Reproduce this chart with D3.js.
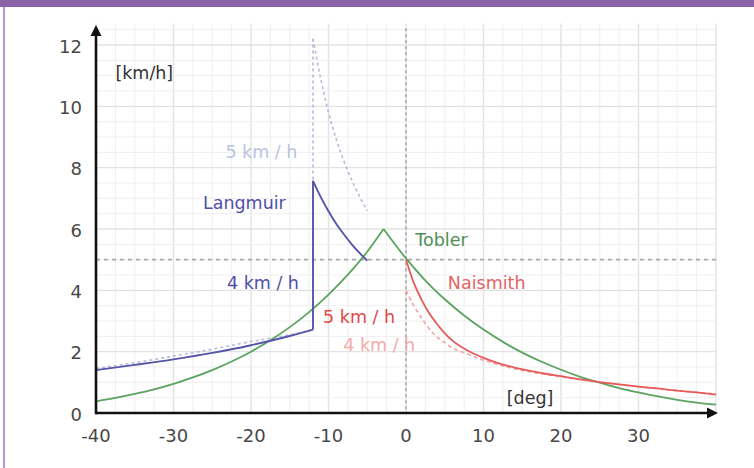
<!DOCTYPE html>
<html>
<head>
<meta charset="utf-8">
<script src="https://cdn.jsdelivr.net/npm/d3@7"></script>
<style>
  html, body { margin: 0; padding: 0; background: #fff; }
  svg { display: block; }
</style>
</head>
<body>
<div id="plot"></div>
<script>
// tick labels
var xTicks = [-40, -30, -20, -10, 0, 10, 20, 30];
var yTicks = [0, 2, 4, 6, 8, 10, 12];

// Tobler hiking function (green)
var toblerDeg = [-40, -37.5, -35, -32.5, -30, -27.5, -25, -22.5, -20, -17.5, -15, -12.5, -10, -7.5, -5, -2.9,
                 0, 2.5, 5, 7.5, 10, 12.5, 15, 17.5, 20, 22.5, 25, 27.5, 30, 32.5, 35, 37.5, 40];
var toblerSpeed = [0.38, 0.49, 0.62, 0.77, 0.95, 1.16, 1.4, 1.68, 2.0, 2.37, 2.8, 3.29, 3.86, 4.51, 5.26, 6.0,
                   5.04, 4.32, 3.71, 3.18, 2.72, 2.32, 1.97, 1.67, 1.41, 1.18, 0.99, 0.81, 0.67, 0.54, 0.43, 0.34, 0.27];

// Langmuir, 4 km/h (solid blue) -- the repeated -12 is the jump
var langmuirDeg = [-40, -35, -30, -25, -20, -15, -12, -12, -11, -10, -9, -8, -7, -6, -5];
var langmuirSpeed = [1.4, 1.57, 1.75, 1.96, 2.21, 2.51, 2.72, 7.57, 7.04, 6.58, 6.17, 5.82, 5.5, 5.22, 4.97];

// Langmuir, 5 km/h (light dotted blue)
var langmuir5Deg = [-40, -35, -30, -25, -20, -15, -12, -12, -11, -10, -9, -8, -7, -6, -5];
var langmuir5Speed = [1.45, 1.64, 1.86, 2.08, 2.33, 2.55, 2.72, 12.2, 10.9, 9.8, 8.93, 8.2, 7.59, 7.06, 6.6];

// Naismith, 5 km/h (solid red)
var naismithDeg = [0, 1, 2, 3, 4, 5, 6, 8, 10, 12, 14, 16, 18, 20, 22.5, 25, 27.5, 30, 32.5, 35, 37.5, 40];
var naismithSpeed = [5.0, 4.25, 3.7, 3.25, 2.9, 2.6, 2.36, 2.03, 1.8, 1.62, 1.48, 1.37, 1.28, 1.2, 1.1, 1.01, 0.93, 0.86, 0.8, 0.73, 0.67, 0.6];

// Naismith, 4 km/h (pink dashed)
var naismith4Deg = [0, 1, 2, 3.5, 5, 6, 8, 10, 12, 14, 16, 18, 20, 25, 30, 35, 40];
var naismith4Speed = [4.0, 3.5, 3.1, 2.6, 2.3, 2.12, 1.92, 1.72, 1.57, 1.44, 1.34, 1.26, 1.18, 1.0, 0.86, 0.73, 0.62];

// reference lines
var refSpeed = 5;
var refDeg = 0;

// annotations: [text, deg, speed, colour]
var labels = [
  ["[km/h]", -37.5, 11.1, "#333"],
  ["5 km / h", -23.3, 8.5, "#b9c3e3"],
  ["Langmuir", -26.2, 6.85, "#4f4fa8"],
  ["4 km / h", -23.1, 4.24, "#4f4fa8"],
  ["Tobler", 1.2, 5.64, "#4f8f55"],
  ["Naismith", 5.4, 4.24, "#e06464"],
  ["5 km / h", -10.7, 3.13, "#e04848"],
  ["4 km / h", -8.1, 2.22, "#f3aaaa"],
  ["[deg]", 13.0, 0.49, "#333"]
];

var W = 754, H = 468;
var svg = d3.select("div#plot")
  .append("svg")
  .attr("width", W)
  .attr("height", H);

svg.append("rect").attr("width", W).attr("height", H).attr("fill", "#fff");

// purple frame
svg.append("rect").attr("x", 0).attr("y", 0).attr("width", W).attr("height", 7).attr("fill", "#8c62a8");
svg.append("rect").attr("x", 3).attr("y", 7).attr("width", 2).attr("height", H - 7).attr("fill", "#b894d0");

var x = d3.scaleLinear().domain([-40, 40]).range([96, 716]);
var y = d3.scaleLinear().domain([0, 12]).range([413, 45]);
var yTop = 12.7;

// grid
var grid = svg.append("g");
d3.range(-40, 40.01, 2.5).forEach(function(d) {
  var major = d % 10 === 0;
  grid.append("line")
    .attr("x1", x(d)).attr("x2", x(d))
    .attr("y1", y(0)).attr("y2", y(yTop))
    .attr("stroke", major ? "#e2e2e2" : "#efefef")
    .attr("stroke-width", major ? 1.4 : 1);
});
d3.range(0.5, 12.51, 0.5).forEach(function(d) {
  var major = d % 2 === 0;
  grid.append("line")
    .attr("x1", x(-40)).attr("x2", x(40))
    .attr("y1", y(d)).attr("y2", y(d))
    .attr("stroke", major ? "#e2e2e2" : "#efefef")
    .attr("stroke-width", major ? 1.4 : 1);
});

// reference dashed lines
svg.append("line")
  .attr("x1", x(-40)).attr("x2", x(40))
  .attr("y1", y(refSpeed)).attr("y2", y(refSpeed))
  .attr("stroke", "#a8a8a8").attr("stroke-width", 1.6)
  .attr("stroke-dasharray", "4,4");
svg.append("line")
  .attr("x1", x(refDeg)).attr("x2", x(refDeg))
  .attr("y1", y(12.55)).attr("y2", y(0))
  .attr("stroke", "#a8a8a8").attr("stroke-width", 1.6)
  .attr("stroke-dasharray", "3,3");

var line = d3.line()
  .x(function(d) { return x(d[0]); })
  .y(function(d) { return y(d[1]); })
  .curve(d3.curveMonotoneX);

// split a series into runs of increasing deg; runs are joined by straight steps
function drawSeries(deg, speed, colour, width, dash, splitAtPeak) {
  var pts = d3.zip(deg, speed);
  var runs = [[pts[0]]];
  var peak = d3.maxIndex(speed);
  for (var i = 1; i < pts.length; i++) {
    if (pts[i][0] === pts[i - 1][0]) {
      runs.push([pts[i]]);
    } else {
      runs[runs.length - 1].push(pts[i]);
      if (splitAtPeak && i === peak) runs.push([pts[i]]);
    }
  }
  var g = svg.append("g")
    .attr("fill", "none")
    .attr("stroke", colour)
    .attr("stroke-width", width)
    .attr("stroke-linejoin", "round")
    .attr("stroke-dasharray", dash);
  runs.forEach(function(r, k) {
    g.append("path").attr("d", line(r));
    if (k > 0) {
      var a = runs[k - 1][runs[k - 1].length - 1];
      if (a[0] === r[0][0]) {
        g.append("path").attr("d", d3.line()([[x(a[0]), y(a[1])], [x(r[0][0]), y(r[0][1])]]));
      }
    }
  });
}

drawSeries(langmuir5Deg, langmuir5Speed, "#b3bbdc", 1.6, "3,3", false);
drawSeries(naismith4Deg, naismith4Speed, "#f2a4a4", 1.6, "4,3", false);
drawSeries(toblerDeg, toblerSpeed, "#5ba35f", 1.8, null, true);
drawSeries(langmuirDeg, langmuirSpeed, "#5656a8", 1.9, null, false);
drawSeries(naismithDeg, naismithSpeed, "#e65a5a", 1.8, null, false);

// axes
svg.append("line")
  .attr("x1", x(-40)).attr("x2", x(40) - 6)
  .attr("y1", y(0)).attr("y2", y(0))
  .attr("stroke", "#111").attr("stroke-width", 2.6);
svg.append("line")
  .attr("x1", x(-40)).attr("x2", x(-40))
  .attr("y1", y(0) + 1.3).attr("y2", 32)
  .attr("stroke", "#111").attr("stroke-width", 2.6);
svg.append("path")
  .attr("d", "M" + (x(40) + 2) + "," + y(0) + "l-11,-5.5l0,11z")
  .attr("fill", "#111");
svg.append("path")
  .attr("d", "M" + x(-40) + ",25l-5.5,11l11,0z")
  .attr("fill", "#111");

// tick labels
svg.selectAll(".xtick")
  .data(xTicks)
  .enter().append("text")
  .attr("class", "xtick")
  .attr("x", function(d) { return x(d); })
  .attr("y", 435)
  .attr("text-anchor", "middle")
  .attr("dominant-baseline", "central")
  .attr("font-family", "DejaVu Sans")
  .attr("font-size", 18)
  .attr("fill", "#484848")
  .text(function(d) { return d; });

svg.selectAll(".ytick")
  .data(yTicks)
  .enter().append("text")
  .attr("class", "ytick")
  .attr("x", 82)
  .attr("y", function(d) { return y(d) + 1; })
  .attr("text-anchor", "end")
  .attr("dominant-baseline", "central")
  .attr("font-family", "DejaVu Sans")
  .attr("font-size", 18)
  .attr("fill", "#484848")
  .text(function(d) { return d; });

// annotations
svg.selectAll(".label")
  .data(labels)
  .enter().append("text")
  .attr("class", "label")
  .attr("x", function(d) { return x(d[1]); })
  .attr("y", function(d) { return y(d[2]); })
  .attr("dominant-baseline", "central")
  .attr("font-family", "DejaVu Sans")
  .attr("font-size", 17.5)
  .attr("fill", function(d) { return d[3]; })
  .text(function(d) { return d[0]; });
</script>
</body>
</html>
